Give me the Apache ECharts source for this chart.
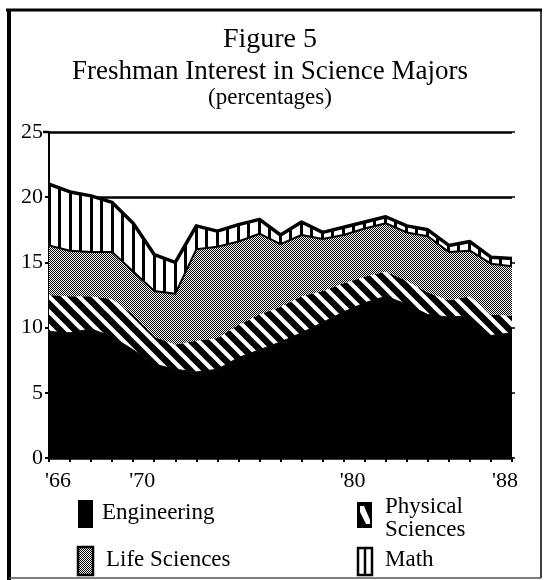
<!DOCTYPE html>
<html>
<head>
<meta charset="utf-8">
<script src="https://cdn.jsdelivr.net/npm/echarts@6/dist/echarts.min.js"></script>
<style>
html,body{margin:0;padding:0;background:#fff;}
#chart{width:544px;height:580px;}
</style>
</head>
<body>
<div id="chart"></div>
<script>
// ---- data (percentages) ----
const years = ['1966','1967','1968','1969','1970','1971','1972','1973','1974','1975','1976','1977','1978','1979','1980','1981','1982','1983','1984','1985','1986','1987','1988'];
const labeledYears = ['1966','1970','1980','1988'];
const labelTexts = ["'66","'70","'80","'88"];
const engineering = [9.7, 9.6, 9.9, 9.3, 8.3, 7.2, 6.8, 6.6, 6.8, 7.7, 8.3, 8.9, 9.6, 10.4, 11.2, 11.9, 12.4, 11.8, 11.0, 10.8, 10.9, 9.4, 9.6];
const physical    = [2.8, 2.8, 2.5, 2.9, 2.7, 2.1, 1.9, 2.4, 2.4, 2.5, 2.7, 2.7, 2.8, 2.4, 2.2, 2.0, 1.9, 1.8, 1.7, 1.3, 1.5, 1.6, 1.3];
const life        = [3.8, 3.5, 3.4, 3.6, 3.3, 3.5, 3.9, 7.0, 7.0, 6.4, 6.2, 4.8, 4.7, 4.0, 3.7, 3.7, 3.7, 3.7, 4.3, 3.7, 3.5, 3.9, 3.8];
const math        = [4.7, 4.5, 4.3, 3.8, 3.7, 2.8, 2.4, 1.8, 1.2, 1.3, 1.1, 0.7, 1.0, 0.5, 0.6, 0.5, 0.5, 0.5, 0.5, 0.5, 0.7, 0.5, 0.6];
const yTicks = [0, 5, 10, 15, 20, 25];

// ---- patterns ----
function tile(w, h, draw) {
  const c = document.createElement('canvas');
  c.width = w; c.height = h;
  const g = c.getContext('2d');
  g.fillStyle = '#fff'; g.fillRect(0, 0, w, h);
  g.fillStyle = '#000'; g.strokeStyle = '#000';
  draw(g);
  return c;
}
const stripeImg = tile(15, 15, g => {
  g.lineWidth = 6.5;
  [-15, 0, 15].forEach(k => {
    g.beginPath(); g.moveTo(-5, -5 + k); g.lineTo(20, 20 + k); g.stroke();
  });
});
const hatchImg = tile(4, 4, g => {
  for (let x = 0; x < 4; x++) for (let y = 0; y < 4; y++) {
    if ((x + y) % 2 === 0) g.fillRect(x, y, 1, 1);
  }
  g.fillRect(1, 1, 1, 1);
});
const mathImg = tile(21, 4, g => {
  g.fillRect(6, 0, 3, 4);
  g.fillRect(16, 0, 3, 4);
});
const pat = img => ({ image: img, repeat: 'repeat' });

const FONT = 'Liberation Serif';
const chart = echarts.init(document.getElementById('chart'), null, { renderer: 'canvas' });

function mkSeries(name, data, area, lw) {
  return {
    name, type: 'line', stack: 'total', data,
    showSymbol: false, symbol: 'none', smooth: false,
    lineStyle: { color: '#000', width: lw, join: 'round' },
    areaStyle: { color: area, opacity: 1 },
    emphasis: { disabled: true },
    silent: true
  };
}

const textStyle = (size) => ({ fill: '#000', font: size + 'px "' + FONT + '"' });

chart.setOption({
  animation: false,
  backgroundColor: '#fff',
  textStyle: { fontFamily: FONT, color: '#000' },
  grid: { left: 49, right: 32, top: 132, bottom: 122, containLabel: false },
  xAxis: {
    type: 'category', data: years, boundaryGap: false,
    axisLine: { show: true, lineStyle: { color: '#000', width: 2 } },
    axisTick: { show: true, interval: 0, length: 4, lineStyle: { color: '#000', width: 2 } },
    axisLabel: {
      interval: (i, v) => labeledYears.indexOf(v) >= 0,
      formatter: v => {
        const t = labelTexts[labeledYears.indexOf(v)];
        return v === '1988' ? '{l|' + t + '}' : '{r|' + t + '}';
      },
      fontFamily: FONT, fontSize: 22, color: '#000', margin: 12,
      rich: {
        r: { fontFamily: FONT, fontSize: 22, color: '#000', padding: [0, 0, 0, 18] },
        l: { fontFamily: FONT, fontSize: 22, color: '#000', padding: [0, 14, 0, 0] }
      }
    },
    splitLine: { show: false }
  },
  yAxis: [{
    type: 'value', min: 0, max: 25, interval: 5,
    axisLine: { show: true, lineStyle: { color: '#000', width: 2 } },
    axisTick: { show: true, length: 4, lineStyle: { color: '#000', width: 2 } },
    axisLabel: {
      fontFamily: FONT, fontSize: 22, color: '#000', margin: 6,
      formatter: v => yTicks.indexOf(v) >= 0 ? String(v) : '',
      verticalAlign: 'middle', padding: [0, 0, 9, 0]
    },
    splitLine: { show: true, lineStyle: { color: '#000', width: 2.5 } }
  }, {
    type: 'value', min: 0, max: 25, interval: 5, position: 'right',
    axisLine: { show: false },
    axisTick: { show: true, length: 3, lineStyle: { color: '#000', width: 1.5 } },
    axisLabel: { show: false },
    splitLine: { show: false }
  }],
  series: [
    mkSeries('Engineering', engineering, '#000', 1),
    mkSeries('Physical Sciences', physical, pat(stripeImg), 0),
    mkSeries('Life Sciences', life, pat(hatchImg), 2),
    mkSeries('Math', math, pat(mathImg), 3.5)
  ],
  graphic: [
    // frame
    { type: 'line', shape: { x1: 6, y1: 10, x2: 542, y2: 10 }, style: { stroke: '#000', lineWidth: 3 } },
    { type: 'line', shape: { x1: 9, y1: 9, x2: 9, y2: 580 }, style: { stroke: '#000', lineWidth: 4 } },
    { type: 'line', shape: { x1: 541, y1: 9, x2: 541, y2: 578 }, style: { stroke: '#000', lineWidth: 1.5 } },
    { type: 'line', shape: { x1: 9, y1: 578, x2: 541, y2: 578 }, style: { stroke: '#555', lineWidth: 1.5 } },
    // extension of the 25 rule to the left of the axis
    { type: 'line', shape: { x1: 43, y1: 132, x2: 49, y2: 132 }, style: { stroke: '#000', lineWidth: 2.5 } },
    // titles
    { type: 'text', x: 270, y: 40, style: Object.assign(textStyle(28), { text: 'Figure 5', textAlign: 'center', textVerticalAlign: 'middle' }) },
    { type: 'text', x: 270, y: 72, style: Object.assign(textStyle(27), { text: 'Freshman Interest in Science Majors', textAlign: 'center', textVerticalAlign: 'middle' }) },
    { type: 'text', x: 270, y: 98, style: Object.assign(textStyle(23), { text: '(percentages)', textAlign: 'center', textVerticalAlign: 'middle' }) },
    // legend: Engineering
    { type: 'rect', shape: { x: 78, y: 500, width: 15, height: 28 }, style: { fill: '#000' } },
    { type: 'text', x: 102, y: 513, style: Object.assign(textStyle(23), { text: 'Engineering', textVerticalAlign: 'middle' }) },
    // legend: Life Sciences
    { type: 'rect', shape: { x: 78, y: 547, width: 15, height: 28 }, style: { fill: pat(hatchImg), stroke: '#000', lineWidth: 2.5 } },
    { type: 'text', x: 106, y: 560, style: Object.assign(textStyle(23), { text: 'Life Sciences', textVerticalAlign: 'middle' }) },
    // legend: Physical Sciences
    { type: 'rect', shape: { x: 357, y: 502, width: 15, height: 26 }, style: { fill: '#000' } },
    { type: 'polygon', shape: { points: [[360, 506], [364, 506], [370, 520], [370, 524], [366, 524], [360, 512]] }, style: { fill: '#fff' } },
    { type: 'text', x: 385, y: 507, style: Object.assign(textStyle(23), { text: 'Physical', textVerticalAlign: 'middle' }) },
    { type: 'text', x: 385, y: 530, style: Object.assign(textStyle(23), { text: 'Sciences', textVerticalAlign: 'middle' }) },
    // legend: Math
    { type: 'rect', shape: { x: 358, y: 548, width: 14, height: 27 }, style: { fill: '#fff', stroke: '#000', lineWidth: 2.5 } },
    { type: 'line', shape: { x1: 365, y1: 548, x2: 365, y2: 575 }, style: { stroke: '#000', lineWidth: 2.5 } },
    { type: 'text', x: 385, y: 560, style: Object.assign(textStyle(23), { text: 'Math', textVerticalAlign: 'middle' }) }
  ]
});
</script>
</body>
</html>
